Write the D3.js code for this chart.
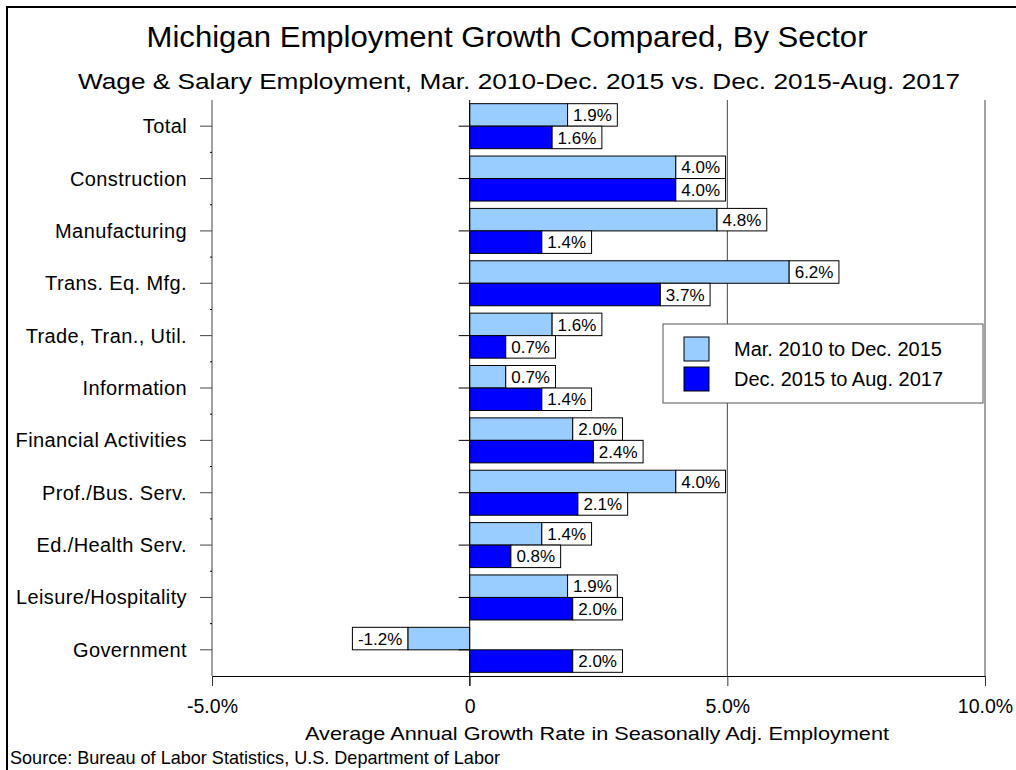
<!DOCTYPE html>
<html>
<head>
<meta charset="utf-8">
<script src="https://cdn.jsdelivr.net/npm/d3@7"></script>
<style>
  body { margin: 0; background: #fff; }
  text { font-family: "Liberation Sans", Arial, sans-serif; fill: #000; }
</style>
</head>
<body>
<script>
var categories = ['Total', 'Construction', 'Manufacturing', 'Trans. Eq. Mfg.', 'Trade, Tran., Util.',
  'Information', 'Financial Activities', 'Prof./Bus. Serv.', 'Ed./Health Serv.',
  'Leisure/Hospitality', 'Government'];
var seriesNames = ['Mar. 2010 to Dec. 2015', 'Dec. 2015 to Aug. 2017'];
var early = [1.9, 4.0, 4.8, 6.2, 1.6, 0.7, 2.0, 4.0, 1.4, 1.9, -1.2];
var late = [1.6, 4.0, 1.4, 3.7, 0.7, 1.4, 2.4, 2.1, 0.8, 2.0, 2.0];
var xTicks = [-5, 0, 5, 10];
var xTickLabels = ['-5.0%', '0', '5.0%', '10.0%'];

var width = 1016, height = 770;
var colors = ['#99ccff', '#0000ff'];

var svg = d3.select('body').append('svg')
  .attr('width', width)
  .attr('height', height);

// outer frame
svg.append('rect')
  .attr('x', 7).attr('y', 7)
  .attr('width', 1100).attr('height', 900)
  .attr('fill', 'none').attr('stroke', '#000').attr('stroke-width', 2);

var x = d3.scaleLinear().domain([-5, 10]).range([212, 985]);
var y = d3.scaleBand().domain(categories).range([100, 676]);
var barH = 22.5;

// titles
svg.append('text').attr('x', 507).attr('y', 47).attr('text-anchor', 'middle')
  .style('font-size', '29px').attr('textLength', 721).attr('lengthAdjust', 'spacingAndGlyphs')
  .text('Michigan Employment Growth Compared, By Sector');
svg.append('text').attr('x', 519).attr('y', 89).attr('text-anchor', 'middle')
  .style('font-size', '22px').attr('textLength', 882).attr('lengthAdjust', 'spacingAndGlyphs')
  .text('Wage & Salary Employment, Mar. 2010-Dec. 2015 vs. Dec. 2015-Aug. 2017');

// vertical grid lines
svg.selectAll('line.grid').data(xTicks.filter(function(d) { return d !== 0; }))
  .enter().append('line').attr('class', 'grid')
  .attr('x1', x).attr('x2', x)
  .attr('y1', 100).attr('y2', y.range()[1])
  .attr('stroke', '#444').attr('stroke-width', 1);

// left axis ticks at category centres
var ctr = function(d) { return y(d) + y.bandwidth() / 2; };
svg.selectAll('line.ltick').data(categories).enter().append('line')
  .attr('x1', 200).attr('x2', x(-5))
  .attr('y1', ctr).attr('y2', ctr)
  .attr('stroke', '#444');
svg.selectAll('line.mtick').data(categories.slice(1)).enter().append('line')
  .attr('x1', x(-5) - 2).attr('x2', x(-5))
  .attr('y1', function(d) { return y(d); }).attr('y2', function(d) { return y(d); })
  .attr('stroke', '#000');

svg.selectAll('text.cat').data(categories).enter().append('text')
  .attr('x', 187).attr('y', ctr).attr('dy', '0.35em')
  .attr('text-anchor', 'end').style('font-size', '20px').style('letter-spacing', '0.4px')
  .text(function(d) { return d; });

// bars
var rows = categories.map(function(c, i) { return { cat: c, a: early[i], b: late[i] }; });

function drawBars(key, idx) {
  svg.selectAll('rect.bar' + idx).data(rows).enter().append('rect')
    .attr('x', function(d) { return x(Math.min(0, d[key])); })
    .attr('width', function(d) { return Math.abs(x(d[key]) - x(0)); })
    .attr('y', function(d) { return ctr(d.cat) - barH + idx * barH; })
    .attr('height', barH)
    .attr('fill', colors[idx]).attr('stroke', '#000').attr('stroke-width', 1);
}
drawBars('a', 0);
drawBars('b', 1);

// zero line with ticks
svg.append('line').attr('x1', x(0)).attr('x2', x(0)).attr('y1', 100).attr('y2', 686)
  .attr('stroke', '#000');
svg.selectAll('line.ztick').data(categories).enter().append('line')
  .attr('x1', x(0) - 11).attr('x2', x(0))
  .attr('y1', ctr).attr('y2', ctr)
  .attr('stroke', '#000');

// value labels
function drawLabels(key, idx) {
  var g = svg.selectAll('g.lab' + idx).data(rows).enter().append('g');
  g.append('text')
    .style('font-size', '17px').attr('text-anchor', 'middle')
    .text(function(d) { return d[key].toFixed(1) + '%'; });
  g.each(function(d) {
    var el = d3.select(this);
    var w = el.select('text').node().getComputedTextLength() + 11;
    var bx = d[key] >= 0 ? x(d[key]) : x(d[key]) - w;
    var by = ctr(d.cat) - barH + idx * barH;
    el.insert('rect', 'text')
      .attr('x', bx).attr('y', by).attr('width', w).attr('height', barH)
      .attr('fill', '#fff').attr('stroke', '#000').attr('stroke-width', 1);
    el.select('text').attr('x', bx + w / 2).attr('y', by + barH / 2).attr('dy', '0.36em');
  });
}
drawLabels('a', 0);
drawLabels('b', 1);

// bottom axis
var xAxis = d3.axisBottom(x).tickValues(xTicks)
  .tickFormat(function(d, i) { return xTickLabels[i]; })
  .tickSize(10).tickSizeOuter(0);
var ax = svg.append('g').attr('transform', 'translate(0,' + y.range()[1] + ')').call(xAxis);
ax.select('.domain').attr('stroke', '#000');
ax.selectAll('.tick line').attr('stroke', '#333');
ax.selectAll('.tick text').attr('y', 37).attr('dy', 0)
  .style('font-size', '19.5px').style('font-family', '"Liberation Sans", Arial, sans-serif').attr('fill', '#000');

svg.append('text').attr('x', 597).attr('y', 740).attr('text-anchor', 'middle')
  .style('font-size', '18.5px').attr('textLength', 584).attr('lengthAdjust', 'spacingAndGlyphs')
  .text('Average Annual Growth Rate in Seasonally Adj. Employment');
svg.append('text').attr('x', 10).attr('y', 764)
  .style('font-size', '19px').attr('textLength', 490).attr('lengthAdjust', 'spacingAndGlyphs')
  .text('Source: Bureau of Labor Statistics, U.S. Department of Labor');

// legend
var lg = svg.append('g');
lg.append('rect').attr('x', 663).attr('y', 324).attr('width', 320).attr('height', 79)
  .attr('fill', '#fff').attr('stroke', '#555').attr('stroke-width', 1);
var items = lg.selectAll('g.item').data(seriesNames).enter().append('g')
  .attr('transform', function(d, i) { return 'translate(0,' + (i * 30) + ')'; });
items.append('rect').attr('x', 684).attr('y', 337).attr('width', 25).attr('height', 24)
  .attr('fill', function(d, i) { return colors[i]; }).attr('stroke', '#000');
items.append('text').attr('x', 734).attr('y', 356).style('font-size', '20px')
  .text(function(d) { return d; });
</script>
</body>
</html>
